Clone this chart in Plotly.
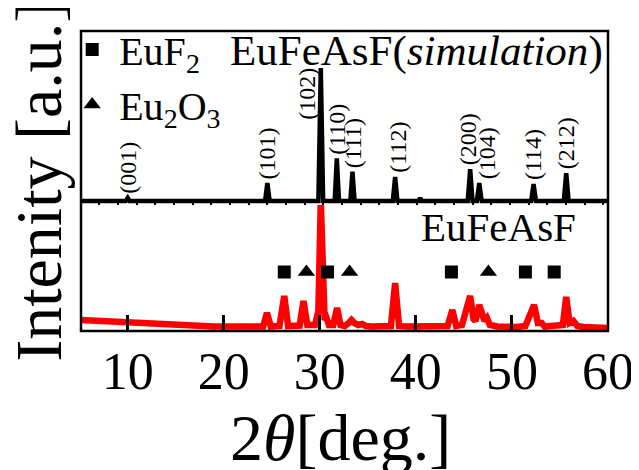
import plotly.graph_objects as go

FONT = "Liberation Serif"

# ---------------- data ----------------
# simulated pattern (EuFeAsF), intensity normalised to 100
sim_x = [5.1, 9.8, 10.0, 10.2, 24.3, 24.54, 24.78, 29.85, 30.1, 30.35,
         31.55, 31.77, 32.0, 33.18, 33.4, 33.62, 37.6, 37.84, 38.08,
         40.3, 40.45, 40.6, 45.4, 45.65, 45.9, 46.35, 46.6, 46.85,
         52.0, 52.25, 52.5, 55.4, 55.65, 55.9, 60.0]
sim_y = [0, 0, 2.3, 0, 0, 13.5, 0, 0, 100, 0,
         0, 32, 0, 0, 22, 0, 0, 18, 0,
         0, 2.3, 0, 0, 24, 0, 0, 13.5, 0,
         0, 12.8, 0, 0, 21, 0, 0]

# indexed reflections
hkl_labels = ["(001)", "(101)", "(102)", "(110)", "(111)", "(112)",
              "(200)", "(104)", "(114)", "(212)"]
hkl_pos = [10.0, 24.54, 30.1, 31.77, 33.4, 37.84, 45.65, 46.6, 52.25, 55.65]
hkl_int = [2.3, 13.5, 100, 32, 22, 18, 24, 13.5, 12.8, 21]

# measured pattern (EuFeAsF sample)
exp_x = [5.1, 6, 7, 8, 9, 10, 11, 12, 13, 14, 15, 16, 17, 18, 19, 20, 21, 22, 23,
         24.1, 24.5, 24.9, 25.8, 26.3, 26.7, 27.3, 27.9, 28.3, 28.7, 29.5,
         29.85, 30.1, 30.35, 30.5, 30.7, 30.95, 31.4, 31.8, 32.15, 32.6,
         33.0, 33.3, 33.6, 34.0, 34.4, 34.8, 35.5, 36.5, 37.4, 37.84, 38.25,
         39, 40, 41, 42, 43.3, 43.8, 44.2, 44.8, 45.65, 46.0, 46.2, 46.6,
         46.95, 47.15, 47.4, 47.7, 48.5, 49.5, 50.5, 51.4, 51.9, 52.3, 52.7,
         53.1, 53.4, 54.1, 54.5, 54.9, 55.3, 55.65, 56.0, 56.4, 56.8, 57.5,
         58.5, 59.5, 60.0]
exp_y = [11, 10.5, 10.5, 9.5, 9, 8, 7.5, 7, 6.5, 6, 5.5, 5, 5, 4.5, 4.5, 4.5, 4.3, 4, 4,
         4.5, 18, 4.5, 5, 35, 5, 5, 5.5, 30, 6, 6,
         20, 130, 20, 11, 13, 6, 6, 23, 6, 5,
         8, 11, 8, 6, 7, 5, 4.5, 4.5, 5, 48, 5,
         4.5, 4.5, 4.5, 4.5, 5, 21, 5, 6, 35, 12, 10, 26,
         12, 10, 13, 6, 4.5, 4, 4, 5, 16, 26, 8,
         8, 4.5, 4.5, 5, 4.5, 6, 34, 8, 10, 5, 4,
         3.5, 3, 3]

# impurity phase reflections
euf2_pos = [26.3, 30.8, 43.7, 51.4, 54.4]
eu2o3_pos = [28.6, 33.1, 47.55]
marker_level = 59

x_ticks_label = [10, 20, 30, 40, 50, 60]

# ---------------- figure ----------------
fig = go.Figure()

fig.add_trace(go.Scatter(x=exp_x, y=exp_y, mode="lines",
                         line=dict(color="#ff0000", width=6.5),
                         xaxis="x", yaxis="y", showlegend=False))
fig.add_trace(go.Scatter(x=euf2_pos, y=[marker_level] * len(euf2_pos), mode="markers",
                         marker=dict(symbol="square", size=13, color="black"),
                         name="EuF<sub>2</sub>", xaxis="x", yaxis="y"))
fig.add_trace(go.Scatter(x=eu2o3_pos, y=[marker_level] * len(eu2o3_pos), mode="markers",
                         marker=dict(symbol="triangle-up", size=15, color="black"),
                         name="Eu<sub>2</sub>O<sub>3</sub>", xaxis="x", yaxis="y"))
fig.add_trace(go.Scatter(x=sim_x, y=sim_y, mode="lines",
                         line=dict(color="black", width=4.5),
                         xaxis="x2", yaxis="y2", showlegend=False))
fig.add_trace(go.Scatter(x=[], y=[], xaxis="x3", yaxis="y2", showlegend=False))

# peak labels
shifts = {"(102)": (-14, "top"), "(104)": (8, "bottom"), "(200)": (-2, "bottom"),
          "(112)": (2, "bottom")}
for lab, px, py in zip(hkl_labels, hkl_pos, hkl_int):
    xs, ya = shifts.get(lab, (0, "bottom"))
    fig.add_annotation(x=px, y=py, xref="x2", yref="y2", text=lab, showarrow=False,
                       textangle=-90, xanchor="center", yanchor=ya, xshift=xs,
                       yshift=2,
                       font=dict(family=FONT, size=24, color="black"))

fig.add_annotation(x=0.994, y=0.932, xref="paper", yref="paper",
                   text="EuFeAsF(<i>simulation</i>)", showarrow=False,
                   xanchor="right", yanchor="middle",
                   font=dict(family=FONT, size=43, color="black"))
fig.add_annotation(x=0.943, y=0.347, xref="paper", yref="paper",
                   text="EuFeAsF", showarrow=False,
                   xanchor="right", yanchor="middle",
                   font=dict(family=FONT, size=41, color="black"))
fig.add_annotation(x=-0.082, y=0.5, xref="paper", yref="paper",
                   text="Intenity [a.u.]", showarrow=False, textangle=-90,
                   xanchor="center", yanchor="middle",
                   font=dict(family=FONT, size=66, color="black"))
# x-axis title
fig.add_annotation(x=0.493, y=-0.227, xref="paper", yref="paper",
                   text="2<i>θ</i>[deg.]", showarrow=False,
                   xanchor="center", yanchor="top",
                   font=dict(family=FONT, size=66, color="black"))

# frame
fig.add_shape(type="rect", xref="paper", yref="paper", x0=0, x1=1, y0=0, y1=1,
              line=dict(color="black", width=2.5), layer="above")

xr = [5.14, 60.0]
fig.update_layout(
    width=631, height=462,
    margin=dict(l=73, r=31, t=23, b=139, autoexpand=False),
    paper_bgcolor="white", plot_bgcolor="white",
    font=dict(family=FONT, color="black"),
    showlegend=True,
    legend=dict(x=-0.03, y=1.047, xanchor="left", yanchor="top",
                bgcolor="rgba(0,0,0,0)", borderwidth=0,
                font=dict(family=FONT, size=40, color="black"),
                itemsizing="trace", itemwidth=44),
    xaxis=dict(domain=[0, 1], anchor="y", range=xr, tickmode="array",
               tickvals=x_ticks_label, ticktext=[str(v) for v in x_ticks_label],
               ticks="inside", ticklen=16, tickwidth=2.5, tickcolor="black",
               ticklabelstandoff=5,
               tickfont=dict(family=FONT, size=52, color="black"),
               showgrid=False, zeroline=False, showline=False),
    yaxis=dict(domain=[0, 130 / 300], anchor="x", range=[0, 130],
               showticklabels=False, ticks="", showgrid=False, zeroline=False,
               showline=False),
    xaxis2=dict(domain=[0, 1], anchor="y2", range=xr,
                showticklabels=False, ticks="", showgrid=False, zeroline=False,
                showline=False),
    yaxis2=dict(domain=[126 / 300, 1], anchor="x2", range=[-3.0, 127.8],
                showticklabels=False, ticks="", showgrid=False, zeroline=False,
                showline=False),
    xaxis3=dict(overlaying="x2", anchor="y2", range=[4.05, 60.5], tick0=0, dtick=2,
                ticks="inside", ticklen=5, tickwidth=1.5, tickcolor="black",
                showticklabels=False, showgrid=False, zeroline=False, showline=False),
)

fig.write_html("out.html")
